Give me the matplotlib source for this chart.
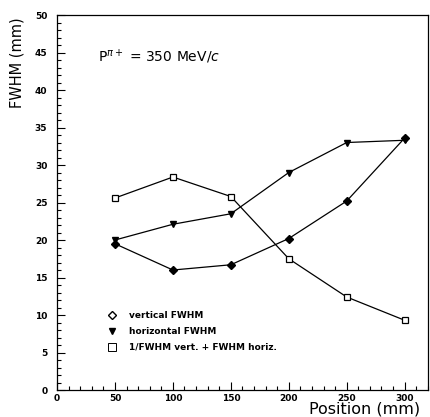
import numpy as np
import matplotlib
matplotlib.use("Agg")
import matplotlib.pyplot as plt
from matplotlib.lines import Line2D
from matplotlib.ticker import MultipleLocator

pos = [50, 100, 150, 200, 250, 300]
vert = [19.5, 16.0, 16.7, 20.2, 25.2, 33.6]
horiz = [20.0, 22.1, 23.5, 29.0, 33.0, 33.3]
combo = [25.6, 28.4, 25.8, 17.5, 12.4, 9.3]
labels = ['vertical FWHM', 'horizontal FWHM', '1/FWHM vert. + FWHM horiz.']

fig = plt.figure(figsize=(4.3, 4.17), dpi=100)
ax = fig.add_axes([0.1326, 0.0647, 0.8624, 0.8993])

ax.plot(pos, vert, color='black', lw=0.9, marker='D', ms=4, mfc='black')
ax.plot(pos, horiz, color='black', lw=0.9, marker='v', ms=5, mfc='black')
ax.plot(pos, combo, color='black', lw=0.9, marker='s', ms=5, mfc='white', mew=0.9)

ax.set_xlim(0, 320)
ax.set_ylim(0, 50)
ax.xaxis.set_major_locator(MultipleLocator(50))
ax.xaxis.set_minor_locator(MultipleLocator(10))
ax.yaxis.set_major_locator(MultipleLocator(5))
ax.yaxis.set_minor_locator(MultipleLocator(1))
ax.tick_params(which='both', direction='in', top=False, right=False, width=0.8)
ax.tick_params(which='major', length=6, labelsize=6.5)
ax.tick_params(axis='x', which='major', pad=3)
ax.tick_params(axis='y', which='major', pad=7)
ax.tick_params(which='minor', length=3)
for lab in ax.get_xticklabels() + ax.get_yticklabels():
    lab.set_fontweight('bold')
for s in ax.spines.values():
    s.set_linewidth(0.9)

ax.text(0.11, 0.875, r'P$^{\pi +}$ = 350 MeV/$c$', transform=ax.transAxes,
        fontsize=10)
fig.text(0.04, 0.85, 'FWHM (mm)', rotation=90, fontsize=10.5, ha='center', va='center')
fig.text(0.978, 0.008, 'Position (mm)', fontsize=11.5, ha='right', va='baseline')

handles = [
    Line2D([], [], ls='none', marker='D', ms=4, mfc='white', mec='black'),
    Line2D([], [], ls='none', marker='v', ms=5, mfc='black', mec='black'),
    Line2D([], [], ls='none', marker='s', ms=6, mfc='white', mec='black', mew=0.7),
]
leg = ax.legend(handles, labels, loc='upper left', bbox_to_anchor=(0.115, 0.232),
                frameon=False, prop={'size': 6.5, 'weight': 'bold'},
                handletextpad=1.3, labelspacing=0.75, handlelength=1.0)

fig.savefig('out.png', dpi=100)
